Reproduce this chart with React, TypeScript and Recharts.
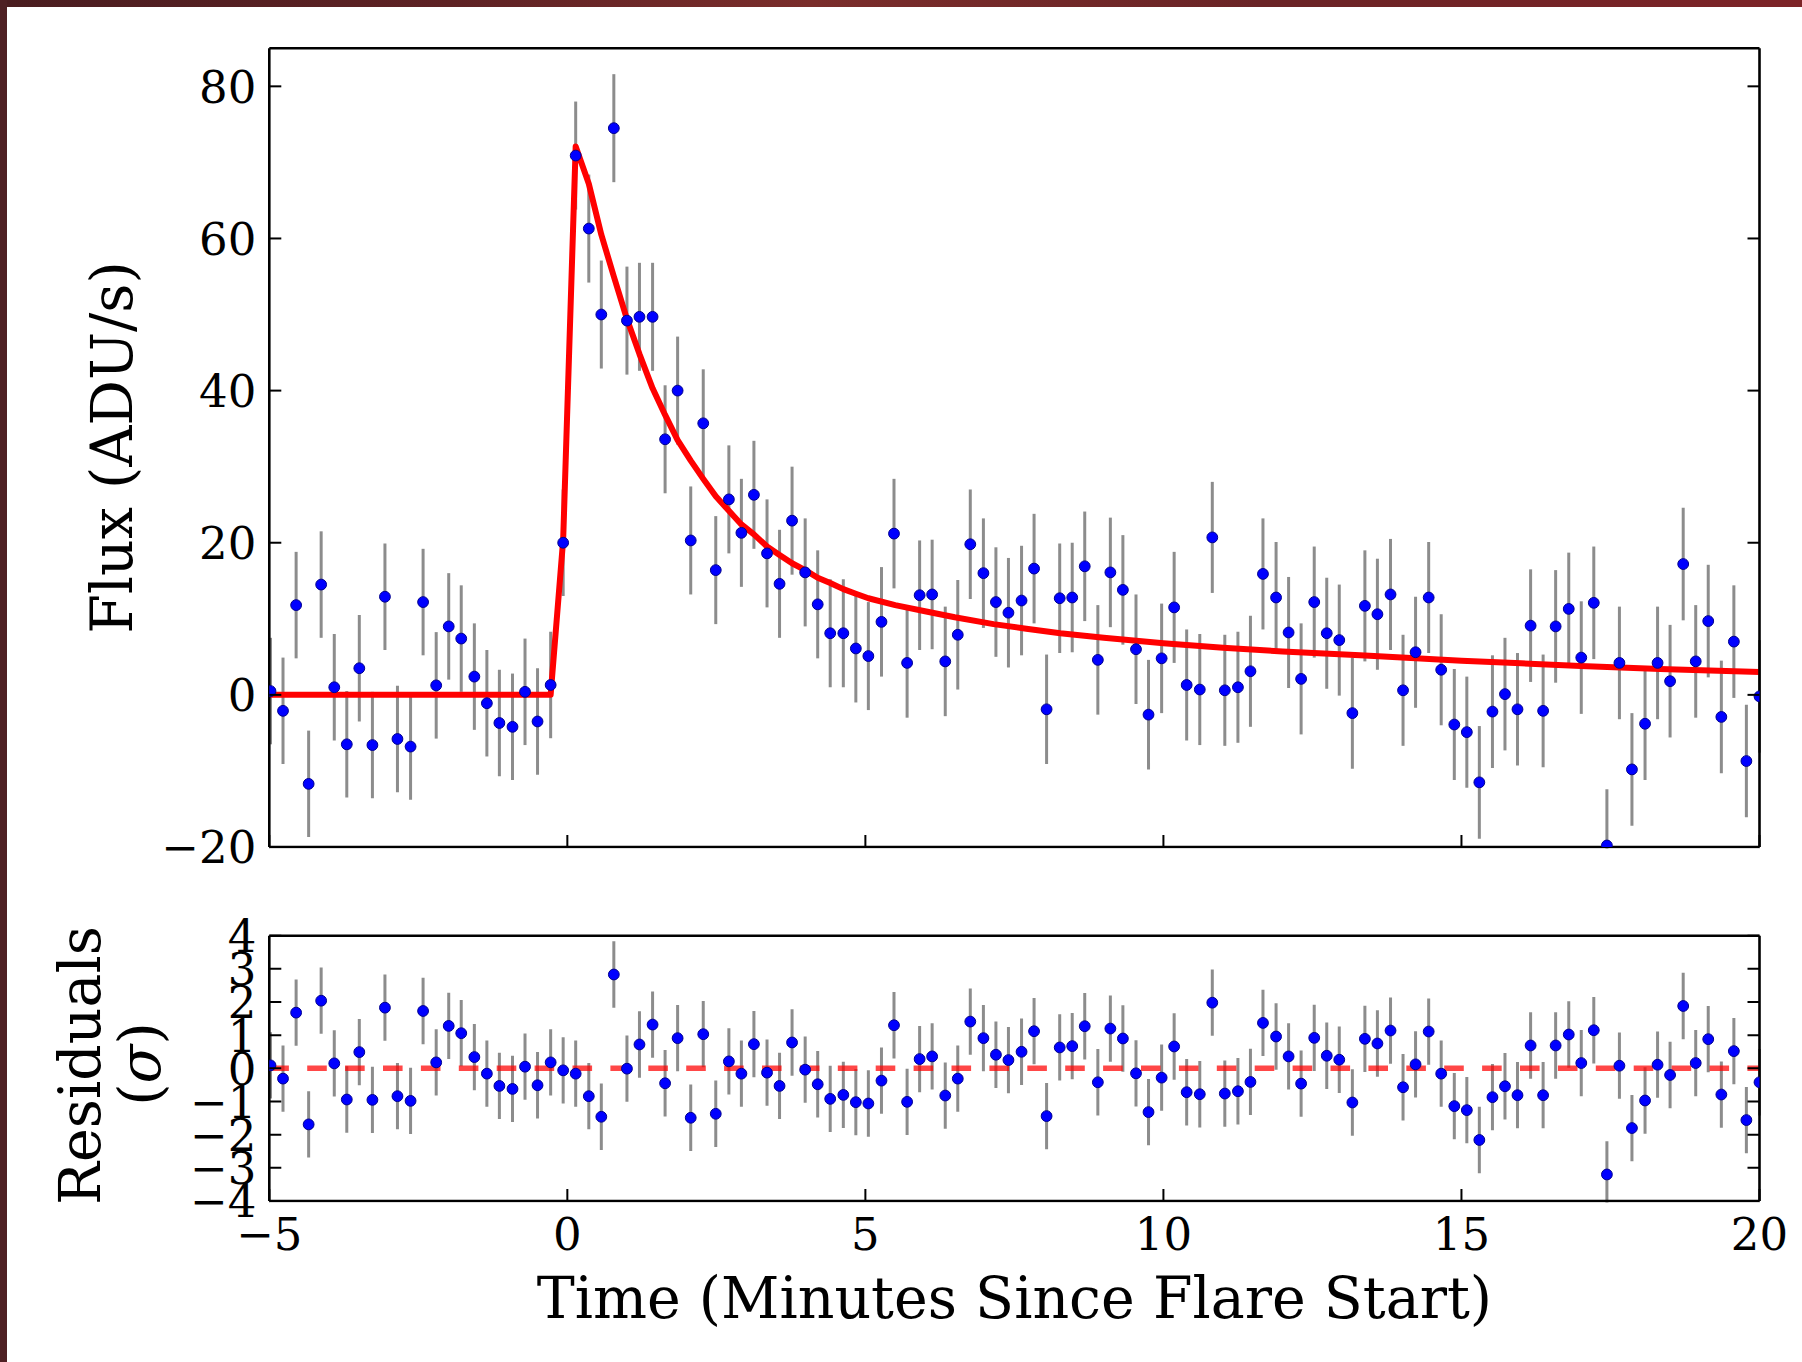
import React from 'react';
import { ComposedChart, Scatter, Line, XAxis, YAxis, ErrorBar, ReferenceLine } from 'recharts';

// ---------- data ----------
const times = [
  -4.98, -4.77, -4.55, -4.34, -4.13, -3.91, -3.70, -3.49, -3.27, -3.06,
  -2.85, -2.63, -2.42, -2.20, -1.99, -1.78, -1.56, -1.35, -1.14, -0.92,
  -0.71, -0.50, -0.28, -0.07, 0.14, 0.36, 0.57, 0.78, 1.00, 1.21,
  1.43, 1.64, 1.85, 2.07, 2.28, 2.49, 2.71, 2.92, 3.13, 3.35,
  3.56, 3.77, 3.99, 4.20, 4.41, 4.63, 4.84, 5.05, 5.27, 5.48,
  5.70, 5.91, 6.12, 6.34, 6.55, 6.76, 6.98, 7.19, 7.40, 7.62,
  7.83, 8.04, 8.26, 8.47, 8.68, 8.90, 9.11, 9.32, 9.54, 9.75,
  9.97, 10.18, 10.39, 10.61, 10.82, 11.03, 11.25, 11.46, 11.67, 11.89,
  12.10, 12.31, 12.53, 12.74, 12.95, 13.17, 13.38, 13.59, 13.81, 14.02,
  14.23, 14.45, 14.66, 14.88, 15.09, 15.30, 15.52, 15.73, 15.94, 16.16,
  16.37, 16.58, 16.80, 17.01, 17.22, 17.44, 17.65, 17.86, 18.08, 18.29,
  18.50, 18.72, 18.93, 19.14, 19.36, 19.57, 19.78, 20.00,
];

const flux = [
  0.5, -2.1, 11.8, -11.7, 14.5, 1.0, -6.5, 3.5, -6.6, 12.9,
  -5.8, -6.8, 12.2, 1.25, 9.0, 7.4, 2.4, -1.1, -3.7, -4.2,
  0.4, -3.5, 1.3, 20.0, 70.9, 61.3, 50.0, 74.5, 49.2, 49.7,
  49.7, 33.6, 40.0, 20.3, 35.7, 16.4, 25.7, 21.3, 26.3, 18.6,
  14.6, 22.9, 16.1, 11.9, 8.1, 8.1, 6.1, 5.1, 9.6, 21.2,
  4.2, 13.1, 13.2, 4.4, 7.9, 19.8, 16.0, 12.2, 10.8, 12.4,
  16.6, -1.9, 12.7, 12.8, 16.9, 4.6, 16.1, 13.8, 6.0, -2.6,
  4.8, 11.5, 1.3, 0.7, 20.7, 0.6, 1.0, 3.1, 15.9, 12.8,
  8.2, 2.1, 12.2, 8.1, 7.2, -2.4, 11.7, 10.6, 13.2, 0.6,
  5.6, 12.8, 3.3, -3.9, -4.9, -11.5, -2.2, 0.1, -1.9, 9.1,
  -2.1, 9.0, 11.3, 4.9, 12.1, -19.8, 4.2, -9.8, -3.8, 4.2,
  1.8, 17.2, 4.4, 9.7, -2.9, 7.0, -8.7, -0.2,
];

const fluxErr = [
  7.0, 7.0, 7.0, 7.0, 7.0, 7.0, 7.0, 7.0, 7.0, 7.0,
  7.0, 7.0, 7.0, 7.0, 7.0, 7.0, 7.0, 7.0, 7.0, 7.0,
  7.0, 7.0, 7.0, 7.0, 7.1, 7.1, 7.1, 7.1, 7.1, 7.1,
  7.1, 7.1, 7.1, 7.1, 7.1, 7.1, 7.1, 7.1, 7.1, 7.1,
  7.1, 7.1, 7.1, 7.1, 7.1, 7.1, 7.1, 7.1, 7.2, 7.2,
  7.2, 7.2, 7.2, 7.2, 7.2, 7.2, 7.2, 7.2, 7.2, 7.2,
  7.2, 7.2, 7.2, 7.2, 7.2, 7.2, 7.2, 7.2, 7.2, 7.2,
  7.2, 7.3, 7.3, 7.3, 7.3, 7.3, 7.3, 7.3, 7.3, 7.3,
  7.3, 7.3, 7.3, 7.3, 7.3, 7.3, 7.3, 7.3, 7.3, 7.3,
  7.3, 7.3, 7.3, 7.3, 7.3, 7.4, 7.4, 7.4, 7.4, 7.4,
  7.4, 7.4, 7.4, 7.4, 7.4, 7.4, 7.4, 7.4, 7.4, 7.4,
  7.4, 7.4, 7.4, 7.4, 7.4, 7.4, 7.4, 7.4,
];

const resid = [
  0.09, -0.31, 1.68, -1.69, 2.04, 0.15, -0.94, 0.49, -0.95, 1.83,
  -0.84, -0.98, 1.73, 0.18, 1.28, 1.06, 0.34, -0.16, -0.53, -0.62,
  0.05, -0.51, 0.18, -0.06, -0.16, -0.84, -1.46, 2.83, -0.01, 0.72,
  1.32, -0.45, 0.91, -1.49, 1.03, -1.37, 0.21, -0.16, 0.73, -0.13,
  -0.53, 0.78, -0.04, -0.48, -0.92, -0.80, -1.02, -1.06, -0.37, 1.30,
  -1.01, 0.28, 0.36, -0.82, -0.31, 1.41, 0.91, 0.41, 0.25, 0.50,
  1.12, -1.44, 0.63, 0.67, 1.27, -0.42, 1.20, 0.90, -0.15, -1.32,
  -0.28, 0.66, -0.72, -0.78, 1.98, -0.76, -0.69, -0.41, 1.37, 0.96,
  0.36, -0.46, 0.92, 0.38, 0.26, -1.03, 0.89, 0.75, 1.14, -0.57,
  0.12, 1.11, -0.16, -1.14, -1.26, -2.16, -0.87, -0.54, -0.81, 0.69,
  -0.81, 0.69, 1.02, 0.16, 1.15, -3.20, 0.08, -1.80, -0.97, 0.11,
  -0.20, 1.88, 0.16, 0.88, -0.79, 0.52, -1.56, -0.42,
];

const residErr = 1;

const modelTimes = [
  -5.0, -0.28, -0.07, 0.14, 0.36, 0.57, 0.78, 1.00, 1.21, 1.43,
  1.64, 1.85, 2.07, 2.28, 2.49, 2.71, 2.92, 3.13, 3.35, 3.56,
  3.77, 3.99, 4.20, 4.41, 4.63, 4.84, 5.05, 5.5, 6.0, 6.5,
  7.15, 7.7, 8.27, 9.0, 10.0, 11.0, 12.0, 13.3, 14.0, 15.0,
  16.0, 17.0, 18.33, 20.0,
];
const modelFlux = [
  0, 0, 20.4, 72.1, 67.2, 60.5, 55.0, 49.4, 44.8, 40.3,
  36.8, 33.5, 30.8, 28.4, 26.1, 24.2, 22.4, 21.1, 19.5, 18.4,
  17.3, 16.4, 15.4, 14.7, 13.9, 13.3, 12.7, 11.8, 11.0, 10.2,
  9.3, 8.7, 8.1, 7.5, 6.8, 6.2, 5.7, 5.2, 4.9, 4.5,
  4.15, 3.8, 3.4, 3.0,
];

const xTicks = [-5, 0, 5, 10, 15, 20];
const fluxTicks = [-20, 0, 20, 40, 60, 80];
const residTicks = [-4, -3, -2, -1, 0, 1, 2, 3, 4];

const xLabel = 'Time (Minutes Since Flare Start)';
const fluxLabel = 'Flux (ADU/s)';
const residLabel = 'Residuals';
const residSymbol = 'σ';

// ---------- tables built from the arrays ----------
const fluxData = times.map((t, i) => ({ t, y: flux[i], e: fluxErr[i] }));
const residData = times.map((t, i) => ({ t, y: resid[i], e: residErr }));
const modelData = modelTimes.map((t, i) => ({ t, y: modelFlux[i] }));

// ---------- style ----------
const FONT = '"DejaVu Serif", "Liberation Serif", serif';
const TICK_LEN = 12;
const TICK_FONT = 45;
const LABEL_FONT = 57;
const AXIS_STROKE = { stroke: '#000', strokeWidth: 2.6 };

const fmt = (v: number) => (v < 0 ? `\u2212${Math.abs(v)}` : `${v}`);

type Side = 'bottom' | 'top' | 'left' | 'right';

const makeTick = (side: Side, withLabel: boolean) => (props: any) => {
  const { x, y, payload } = props;
  const v = payload?.value as number;
  let x2 = x;
  let y2 = y;
  if (side === 'bottom') y2 = y - TICK_LEN;
  if (side === 'top') y2 = y + TICK_LEN;
  if (side === 'left') x2 = x + TICK_LEN;
  if (side === 'right') x2 = x - TICK_LEN;
  let label: React.ReactNode = null;
  if (withLabel && side === 'left') {
    label = (
      <text x={x - 13} y={y + 16.4} textAnchor="end" fontFamily={FONT} fontSize={TICK_FONT} fill="#000">
        {fmt(v)}
      </text>
    );
  }
  if (withLabel && side === 'bottom') {
    label = (
      <text x={x} y={y + 48.5} textAnchor="middle" fontFamily={FONT} fontSize={TICK_FONT} fill="#000">
        {fmt(v)}
      </text>
    );
  }
  return (
    <g>
      <line x1={x} y1={y} x2={x2} y2={y2} stroke="#000" strokeWidth={2} />
      {label}
    </g>
  );
};

const Dot = (p: any) => (
  <circle cx={p.cx} cy={p.cy} r={5.4} fill="#0000ff" stroke="#00008f" strokeWidth={1} />
);

const W = 1802;
const TOP_H = 880;
const BOT_TOP = 880;
const BOT_H = 482;
const LEFT_W = 269.3;
const RIGHT_W = 42.5;

const FluxAxisLabel = () => (
  <text
    x={132}
    y={447.5}
    transform="rotate(-90, 132, 447.5)"
    textAnchor="middle"
    fontFamily={FONT}
    fontSize={LABEL_FONT}
    fill="#000"
  >
    {fluxLabel}
  </text>
);

const ResidAxisLabel = () => (
  <g>
    <text
      x={100}
      y={185.5}
      transform="rotate(-90, 100, 185.5)"
      textAnchor="middle"
      fontFamily={FONT}
      fontSize={LABEL_FONT}
      fill="#000"
    >
      {residLabel}
    </text>
    <text
      x={160}
      y={184}
      transform="rotate(-90, 160, 184)"
      textAnchor="middle"
      fontFamily={FONT}
      fontSize={LABEL_FONT}
      fill="#000"
    >
      (<tspan fontStyle="italic">{residSymbol}</tspan>)
    </text>
  </g>
);

const TimeAxisLabel = () => (
  <text x={1014.4} y={438} textAnchor="middle" fontFamily={FONT} fontSize={LABEL_FONT} fill="#000">
    {xLabel}
  </text>
);

// a thin strip just below each plot frame (inside the plot's x range) is cut away,
// so that error bars stop at the frame the way the reference's do
const stripClip = (w: number, h: number, x0: number, x1: number, y0: number, y1: number) =>
  `polygon(evenodd, 0px 0px, ${w}px 0px, ${w}px ${h}px, 0px ${h}px, 0px 0px, ${x0}px ${y0}px, ${x1}px ${y0}px, ${x1}px ${y1}px, ${x0}px ${y1}px, ${x0}px ${y0}px, 0px 0px)`;

const topClip = stripClip(W, TOP_H, 270, 1759, 848.4, TOP_H);
const residClip = stripClip(W, BOT_H, 270, 1759, 322.6, 334);

export default function App() {
  return (
    <div style={{ position: 'absolute', left: 0, top: 0, width: W, height: 1362, background: '#fff', overflow: 'hidden' }}>
      <div
        style={{
          position: 'absolute',
          left: 0,
          top: 0,
          width: W,
          height: 7,
          background: 'linear-gradient(90deg, #4a1d20 0%, #5e2224 25%, #7a2d2b 45%, #6a2426 70%, #7d2427 100%)',
        }}
      />
      <div style={{ position: 'absolute', left: 0, top: 0, width: 7, height: 1362, background: '#4e2023' }} />

      {/* top panel */}
      <div style={{ position: 'absolute', left: 0, top: 0, width: W, height: TOP_H, clipPath: topClip }}>
        <ComposedChart width={W} height={TOP_H} margin={{ top: 0, right: 0, bottom: 0, left: 0 }}>
          <XAxis
            dataKey="t"
            type="number"
            domain={[-5, 20]}
            ticks={xTicks}
            interval={0}
            allowDataOverflow
            height={TOP_H - 847}
            tickSize={0}
            tickMargin={0}
            tickLine={false}
            axisLine={AXIS_STROKE}
            tick={makeTick('bottom', false)}
          />
          <XAxis
            xAxisId="top"
            orientation="top"
            type="number"
            domain={[-5, 20]}
            ticks={xTicks}
            interval={0}
            allowDataOverflow
            height={48.3}
            tickSize={0}
            tickMargin={0}
            tickLine={false}
            axisLine={AXIS_STROKE}
            tick={makeTick('top', false)}
          />
          <YAxis
            dataKey="y"
            type="number"
            domain={[-20, 85]}
            ticks={fluxTicks}
            interval={0}
            allowDataOverflow
            width={LEFT_W}
            tickSize={0}
            tickMargin={0}
            tickLine={false}
            axisLine={AXIS_STROKE}
            tick={makeTick('left', true)}
            label={FluxAxisLabel}
          />
          <YAxis
            yAxisId="right"
            orientation="right"
            type="number"
            domain={[-20, 85]}
            ticks={fluxTicks}
            interval={0}
            allowDataOverflow
            width={RIGHT_W}
            tickSize={0}
            tickMargin={0}
            tickLine={false}
            axisLine={AXIS_STROKE}
            tick={makeTick('right', false)}
          />
          <Scatter data={fluxData} dataKey="y" shape={Dot} isAnimationActive={false}>
            <ErrorBar dataKey="e" direction="y" width={0} stroke="#8c8c8c" strokeWidth={3} isAnimationActive={false} />
          </Scatter>
          <Line
            data={modelData}
            dataKey="y"
            type="linear"
            stroke="#ff0000"
            strokeWidth={6}
            strokeLinejoin="round"
            dot={false}
            activeDot={false}
            isAnimationActive={false}
          />
        </ComposedChart>
      </div>

      {/* residual panel */}
      <div style={{ position: 'absolute', left: 0, top: BOT_TOP, width: W, height: BOT_H, clipPath: residClip }}>
        <ComposedChart width={W} height={BOT_H} margin={{ top: 0, right: 0, bottom: 0, left: 0 }}>
          <XAxis
            dataKey="t"
            type="number"
            domain={[-5, 20]}
            ticks={xTicks}
            interval={0}
            allowDataOverflow
            height={BOT_H - 321}
            tickSize={0}
            tickMargin={0}
            tickLine={false}
            axisLine={AXIS_STROKE}
            tick={makeTick('bottom', true)}
            label={TimeAxisLabel}
          />
          <XAxis
            xAxisId="top"
            orientation="top"
            type="number"
            domain={[-5, 20]}
            ticks={xTicks}
            interval={0}
            allowDataOverflow
            height={55.7}
            tickSize={0}
            tickMargin={0}
            tickLine={false}
            axisLine={AXIS_STROKE}
            tick={makeTick('top', false)}
          />
          <YAxis
            dataKey="y"
            type="number"
            domain={[-4, 4]}
            ticks={residTicks}
            interval={0}
            allowDataOverflow
            width={LEFT_W}
            tickSize={0}
            tickMargin={0}
            tickLine={false}
            axisLine={AXIS_STROKE}
            tick={makeTick('left', true)}
            label={ResidAxisLabel}
          />
          <YAxis
            yAxisId="right"
            orientation="right"
            type="number"
            domain={[-4, 4]}
            ticks={residTicks}
            interval={0}
            allowDataOverflow
            width={RIGHT_W}
            tickSize={0}
            tickMargin={0}
            tickLine={false}
            axisLine={AXIS_STROKE}
            tick={makeTick('right', false)}
          />
          <Scatter data={residData} dataKey="y" shape={Dot} isAnimationActive={false}>
            <ErrorBar dataKey="e" direction="y" width={0} stroke="#8c8c8c" strokeWidth={3} isAnimationActive={false} />
          </Scatter>
          <ReferenceLine
            y={0}
            stroke="#ff0000"
            strokeOpacity={0.72}
            strokeWidth={5.5}
            strokeDasharray="19.6 18.3"
          />
        </ComposedChart>
      </div>
    </div>
  );
}
